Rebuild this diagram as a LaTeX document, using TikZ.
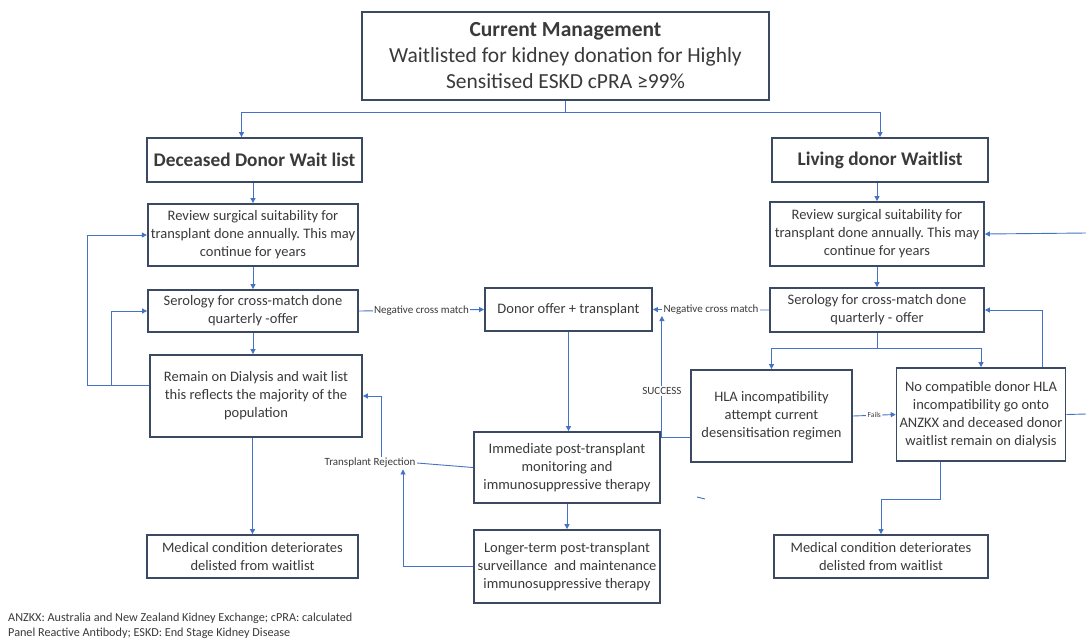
\documentclass[tikz,border=0pt]{standalone}
\usepackage{fontspec}
\setmainfont{Carlito}
\usetikzlibrary{arrows.meta,positioning,calc}
\definecolor{ink}{HTML}{3A3A3A}
\definecolor{frame}{HTML}{3B4A62}
\definecolor{wire}{HTML}{4472C4}
\frenchspacing
\tikzset{
  every node/.style={text=ink},
  box/.style={draw=frame, line width=1.8pt, fill=white, align=center, inner sep=3pt,
    font=\fontsize{14.5}{18}\selectfont},
  headbox/.style={box, font=\fontsize{19.3}{23}\selectfont\bfseries},
  conn/.style={draw=wire, line width=0.9pt},
  arr/.style={conn, -{Triangle[length=5pt,width=5pt]}},
  lbl/.style={font=\fontsize{11}{12}\selectfont, fill=white, inner sep=1.5pt},
  note/.style={font=\fontsize{12.2}{14.5}\selectfont, align=left, inner sep=0pt},
}

\begin{document}
\begin{tikzpicture}[x=1pt, y=-1pt]
  \useasboundingbox (0,0) rectangle (1086,641);

  \node[box, minimum width=407, minimum height=88, font=\fontsize{21.5}{26}\selectfont] (top) at (565.5,56)
    {\textbf{Current Management}\\Waitlisted for kidney donation for Highly\\Sensitised ESKD cPRA ≥99\%};

  \node[headbox, minimum width=215, minimum height=44] (lhead) at (254.5,160) {Deceased Donor Wait list};
  \node[headbox, minimum width=216, minimum height=44] (rhead) at (880,160) {Living donor Waitlist};

  % deceased donor side
  \node[box, minimum width=210, minimum height=62] (lrev) at (253,235)
    {Review surgical suitability for\\transplant done annually. This may\\continue for years};
  \node[box, minimum width=210, minimum height=42] (lser) at (253,311)
    {Serology for cross-match done\\quarterly -offer};
  \node[box, minimum width=212, minimum height=82] (lrem) at (256,396)
    {Remain on Dialysis and wait list\\this reflects the majority of the\\population};
  \node[box, minimum width=211, minimum height=43] (lmed) at (252.5,556.5)
    {Medical condition deteriorates\\delisted from waitlist};

  % transplant path
  \node[box, minimum width=167, minimum height=43] (offer) at (568.5,309.5) {Donor offer + transplant};
  \node[box, minimum width=186, minimum height=71] (immed) at (567,467.5)
    {Immediate post-transplant\\monitoring and\\immunosuppressive therapy};
  \node[box, minimum width=186, minimum height=73] (longer) at (567,566.5)
    {Longer-term post-transplant\\surveillance\ \ and maintenance\\immunosuppressive therapy};
  \node[lbl] (rej) at (370,463) {Transplant Rejection};

  % living donor side
  \node[box, minimum width=214, minimum height=64] (rrev) at (877,234)
    {Review surgical suitability for\\transplant done annually. This may\\continue for years};
  \node[box, minimum width=214, minimum height=44] (rser) at (877,310)
    {Serology for cross-match done\\quarterly - offer};
  \node[box, minimum width=161, minimum height=92] (hla) at (771.5,416)
    {HLA incompatibility\\attempt current\\desensitisation regimen};
  \node[box, minimum width=166, minimum height=93] (nocomp) at (981,414.5)
    {No compatible donor HLA\\incompatibility go onto\\ANZKX and deceased donor\\waitlist remain on dialysis};
  \node[box, minimum width=214, minimum height=43] (rmed) at (881,556.5)
    {Medical condition deteriorates\\delisted from waitlist};

  \coordinate (offR1) at (1086,233);
  \coordinate (offR2) at (1086,414);

  \node[note, anchor=north west] (foot) at (8,613)
    {ANZKX: Australia and New Zealand Kidney Exchange; cPRA: calculated\\Panel Reactive Antibody; ESKD: End Stage Kidney Disease};

  % top split
  \draw[conn] (top.south) -- ++(0,12) coordinate (split);
  \draw[arr] (split) -| ($(lhead.north)+(-13,0)$);
  \draw[arr] (split) -| (rhead.north);

  \draw[arr] (lrev.north |- lhead.south) -- (lrev.north);
  \draw[arr] (lser.north |- lrev.south) -- (lser.north);
  \draw[arr] (lser.south) -- (lser.south |- lrem.north);
  \draw[arr] (lmed.north |- lrem.south) -- (lmed.north);
  \draw[arr] ($(lrem.west)+(0,-11)$) -- ++(-62,0) |- (lrev.west);
  \draw[arr] ($(lrem.west)+(-38,-11)$) |- (lser.west);
  \draw[arr] (lser.east) -- node[lbl] {Negative cross match} (offer.west);

  \draw[arr] (offer.south) -- (offer.south |- immed.north);
  \draw[arr] (immed.south) -- (longer.north);
  \draw[conn] (immed.west) -- (rej.east);
  \draw[arr] ($(rej.north)+(11,0)$) |- (lrem.east);
  \draw[arr] (longer.west) -| ($(rej.south)+(33,0)$);

  \draw[arr] (rrev.north |- rhead.south) -- (rrev.north);
  \draw[arr] (rrev.south) -- (rser.north);
  \draw[arr] (rser.west) -- node[lbl] {Negative cross match} (offer.east);
  \draw[conn] (rser.south) -- ++(0,16) coordinate (rsplit);
  \draw[arr] (rsplit) -| (hla.north);
  \draw[arr] (rsplit) -| (nocomp.north);
  \draw[arr] ($(hla.west)+(0,21)$) -| node[lbl, pos=0.69] {SUCCESS} ($(offer.east)+(9,6.5)$);
  \draw[arr] (hla.east) -- node[lbl, font=\fontsize{7.5}{8}\selectfont] {Fails} (nocomp.west);
  \draw[arr] ($(nocomp.north)+(61,0)$) |- (rser.east);
  \draw[arr] (offR1) -- (rrev.east);
  \draw[conn] (nocomp.east) -- (offR2);
  \draw[arr] ($(nocomp.south)+(-41,0)$) -- ++(0,38) -| (rmed.north);

  \draw[conn] (697,497) -- (705,499);
\end{tikzpicture}
\end{document}
